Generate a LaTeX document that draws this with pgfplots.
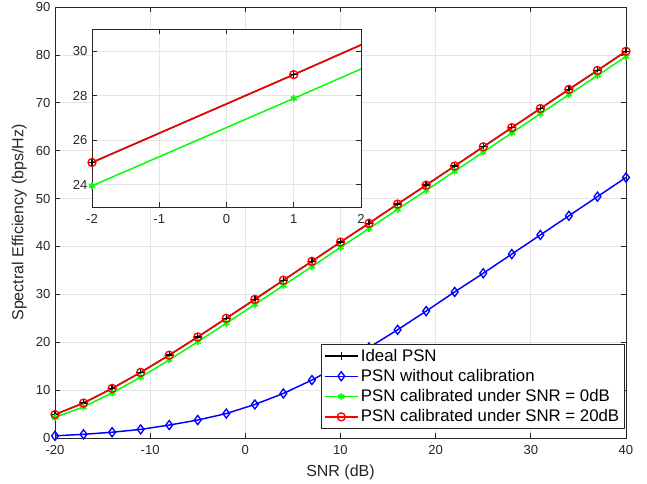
\documentclass[border=0pt]{standalone}
\usepackage{fontspec}
\setmainfont{Liberation Sans}
\usepackage{pgfplots}
\pgfplotsset{compat=1.18}
\definecolor{axgray}{rgb}{0.15,0.15,0.15}
\definecolor{mgreen}{rgb}{0,1,0}

\pgfplotsset{
  matlabstyle/.style={
    scale only axis,
    grid=major,
    grid style={black!10, line width=0.5pt},
    axis line style={axgray, line width=0.5pt},
    tick style={axgray, line width=0.5pt},
    major tick length=3.75pt,
    ticklabel style={font=\fontsize{9.8}{11}\selectfont, text=axgray},
    xticklabel style={yshift=-2pt},
    /pgf/number format/assume math mode=true,
    label style={font=\fontsize{12}{14}\selectfont, text=axgray},
  },
  ideal/.style={black, line width=1.1pt, mark=+, mark size=3pt, mark options={line width=1pt}},
  nocal/.style={blue, line width=1.1pt, mark=diamond, mark size=3.4pt, mark options={line width=1pt}},
  cal0/.style={mgreen, line width=1.1pt, mark=asterisk, mark size=2.6pt, mark options={line width=1.2pt}},
  cal20/.style={red, line width=1.1pt, mark=o, mark size=3pt, mark options={line width=1pt}},
}

\begin{document}
\begin{tikzpicture}
\useasboundingbox (-41.25pt,-34.5pt) rectangle (444pt,328.5pt);
\begin{axis}[
  matlabstyle,
  at={(0,0)}, anchor=south west,
  width=428.25pt, height=323.25pt,
  xmin=-20, xmax=40, ymin=0, ymax=90,
  xtick={-20,-10,...,40},
  ytick={0,10,...,90},
  xlabel={SNR (dB)},
  ylabel={Spectral Efficiency (bps/Hz)},
  xlabel style={yshift=-1pt},
  legend style={at={(rel axis cs:0.998,0.021)}, anchor=south east,
    font=\fontsize{12.6}{14}\selectfont, draw=axgray, line width=0.5pt,
    inner xsep=2pt, inner ysep=1.5pt, row sep=0.6pt},
  legend cell align=left,
  legend image code/.code={\draw[mark repeat=2,mark phase=2,#1] plot coordinates {(0cm,0cm) (0.43cm,0cm) (0.86cm,0cm)};},
]
\addplot[ideal] coordinates {
(-20,4.9) (-17,7.3) (-14,10.35) (-11,13.7) (-8,17.3) (-5,21.1) (-2,25.0)
(1,28.95) (4,32.95) (7,36.9) (10,40.9) (13,44.85) (16,48.85) (19,52.8)
(22,56.8) (25,60.8) (28,64.8) (31,68.8) (34,72.8) (37,76.75) (40,80.75)};
\addlegendentry{Ideal PSN}
\addplot[nocal] coordinates {
(-20,0.45) (-17,0.77) (-14,1.2) (-11,1.8) (-8,2.7) (-5,3.75) (-2,5.1)
(1,7.0) (4,9.3) (7,12.1) (10,15.3) (13,18.9) (16,22.6) (19,26.5)
(22,30.5) (25,34.4) (28,38.4) (31,42.4) (34,46.4) (37,50.4) (40,54.4)};
\addlegendentry{PSN without calibration}
\addplot[cal0] coordinates {
(-20,4.3) (-17,6.5) (-14,9.4) (-11,12.7) (-8,16.3) (-5,20.1) (-2,23.95)
(1,27.88) (4,31.85) (7,35.8) (10,39.8) (13,43.75) (16,47.75) (19,51.7)
(22,55.7) (25,59.7) (28,63.7) (31,67.7) (34,71.7) (37,75.7) (40,79.65)};
\addlegendentry{PSN calibrated under SNR = 0dB}
\addplot[cal20] coordinates {
(-20,4.9) (-17,7.3) (-14,10.35) (-11,13.7) (-8,17.3) (-5,21.1) (-2,25.0)
(1,28.95) (4,32.95) (7,36.9) (10,40.9) (13,44.85) (16,48.85) (19,52.8)
(22,56.8) (25,60.8) (28,64.8) (31,68.8) (34,72.8) (37,76.75) (40,80.75)};
\addlegendentry{PSN calibrated under SNR = 20dB}
\end{axis}

% inset
\begin{axis}[
  matlabstyle,
  at={(27.75pt,173.25pt)}, anchor=south west,
  width=201.75pt, height=133.5pt,
  xmin=-2, xmax=2, ymin=23, ymax=31,
  xtick={-2,-1,...,2},
  ytick={24,26,28,30},
  axis background/.style={fill=white},
]
\addplot[ideal] coordinates {(-5,21.1) (-2,25.0) (1,28.95) (4,32.95)};
\addplot[cal0] coordinates {(-5,20.1) (-2,23.95) (1,27.88) (4,31.85)};
\addplot[cal20] coordinates {(-5,21.1) (-2,25.0) (1,28.95) (4,32.95)};
\end{axis}
\end{tikzpicture}
\end{document}
